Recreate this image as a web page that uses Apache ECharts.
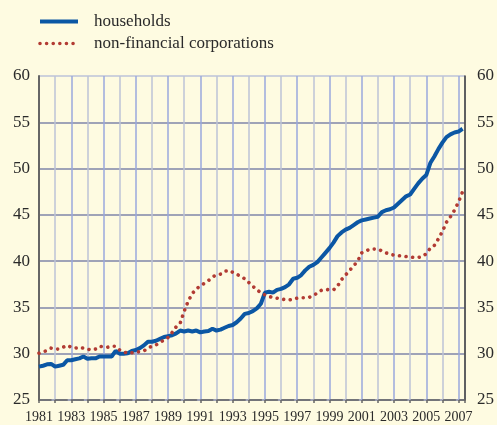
<!DOCTYPE html>
<html>
<head>
<meta charset="utf-8">
<script src="https://cdn.jsdelivr.net/npm/echarts@6/dist/echarts.min.js"></script>
<style>
  html, body { margin: 0; padding: 0; background: #fefbe1; }
  #chart { width: 497px; height: 425px; }
</style>
</head>
<body>
<div id="chart"></div>
<script>
// quarterly observations, 1981 Q1 .. 2007 Q2
const firstYear = 1981;
const households = [
  28.6, 28.7, 28.85, 28.9,   28.6, 28.7, 28.8, 29.3,   29.3, 29.4, 29.5, 29.7,
  29.45, 29.5, 29.5, 29.7,   29.7, 29.7, 29.7, 30.3,   30.0, 30.0, 30.05, 30.3,
  30.4, 30.6, 30.9, 31.3,    31.3, 31.4, 31.6, 31.8,   31.9, 32.0, 32.2, 32.5,
  32.4, 32.5, 32.4, 32.5,    32.3, 32.4, 32.45, 32.7,  32.5, 32.6, 32.8, 33.0,
  33.1, 33.4, 33.8, 34.3,    34.4, 34.6, 34.9, 35.4,   36.6, 36.7, 36.6, 36.9,
  37.0, 37.2, 37.5, 38.1,    38.2, 38.5, 39.0, 39.4,   39.6, 39.9, 40.4, 40.9,
  41.4, 42.0, 42.7, 43.1,    43.4, 43.6, 43.9, 44.2,   44.4, 44.5, 44.6, 44.7,
  44.8, 45.3, 45.5, 45.6,    45.8, 46.2, 46.6, 47.0,   47.2, 47.8, 48.4, 48.9,
  49.3, 50.6, 51.3, 52.1,    52.8, 53.4, 53.7, 53.9,   54.0, 54.3
];
const corporations = [
  30.05, 30.2, 30.35, 30.6,  30.5, 30.5, 30.7, 30.9,   30.7, 30.6, 30.7, 30.6,
  30.5, 30.4, 30.5, 30.8,    30.75, 30.7, 30.8, 30.8,  30.4, 30.2, 30.05, 30.1,
  30.2, 30.2, 30.3, 30.6,    30.8, 30.95, 31.2, 31.5,  31.75, 32.3, 32.9, 33.3,
  34.6, 35.7, 36.5, 37.0,    37.35, 37.6, 37.9, 38.3,  38.5, 38.6, 38.9, 39.0,
  38.8, 38.6, 38.35, 38.1,   37.7, 37.3, 36.9, 36.6,   36.35, 36.2, 36.05, 36.0,
  35.9, 35.85, 35.8, 35.9,   36.0, 36.05, 36.05, 36.1, 36.3, 36.55, 36.85, 36.95,
  36.9, 36.9, 37.3, 38.0,    38.5, 39.0, 39.5, 40.0,   40.9, 41.1, 41.3, 41.3,
  41.3, 41.1, 40.9, 40.75,   40.65, 40.6, 40.55, 40.5, 40.45, 40.4, 40.4, 40.5,
  40.8, 41.4, 41.7, 42.4,    43.2, 44.2, 44.8, 45.5,   46.4, 47.5
];
const seriesNames = ['households', 'non-financial corporations'];
const yTicks = { min: 25, max: 60, step: 5 };

const periods = households.map((_, i) => firstYear + i / 4);
const pairs = vals => vals.map((v, i) => [periods[i], v]);

const serif = '"Liberation Serif", "Times New Roman", serif';
const blueLine = { color: '#0b57a4', width: 4 };
const redDots = { color: '#b23b33', width: 3.6, type: [0.01, 6.6], cap: 'round' };

const chart = echarts.init(document.getElementById('chart'));

const yAxisBase = {
  type: 'value',
  min: yTicks.min,
  max: yTicks.max,
  interval: yTicks.step,
  axisTick: { show: false },
  axisLabel: { color: '#2a2a2a', fontFamily: serif, fontSize: 17 }
};

chart.setOption({
  backgroundColor: '#fefbe1',
  animation: false,
  legend: {
    orient: 'vertical',
    left: 33,
    top: 8,
    itemWidth: 38,
    itemHeight: 12,
    itemGap: 5,
    itemStyle: { opacity: 0 },
    textStyle: { fontFamily: serif, fontSize: 17, color: '#2a2a2a', padding: [0, 0, 0, 11] },
    data: [
      { name: seriesNames[0], lineStyle: blueLine },
      { name: seriesNames[1], lineStyle: redDots }
    ]
  },
  grid: { left: 39, right: 31, top: 76, bottom: 25 },
  xAxis: {
    type: 'value',
    min: firstYear,
    max: 2007.4,
    interval: 1,
    axisLine: { onZero: false, lineStyle: { color: '#666', width: 1.5, type: [12, 4.18] } },
    axisTick: { show: true, length: 3, lineStyle: { color: '#666', width: 1.5 } },
    axisLabel: {
      color: '#2a2a2a', fontFamily: serif, fontSize: 14, margin: 10,
      formatter: v => (Number.isInteger(v) && v % 2 === 1) ? String(v) : ''
    },
    splitLine: { show: true, lineStyle: { color: ['#9aa8dc', '#bcc3d6'], width: 1.5 } }
  },
  yAxis: [
    Object.assign({}, yAxisBase, {
      position: 'left',
      axisLine: { show: true, lineStyle: { color: '#666', width: 2 } },
      axisLabel: Object.assign({}, yAxisBase.axisLabel, { margin: 9 }),
      splitLine: {
        show: true,
        lineStyle: { color: ['#7f86a8', '#7f86a8', '#7f86a8', '#7f86a8', '#7f86a8', '#7f86a8', '#7f86a8', '#bcc3d8'], width: 1.5 }
      }
    }),
    Object.assign({}, yAxisBase, {
      position: 'right',
      axisLine: { show: true, lineStyle: { color: '#3a3a3a', width: 1.5 } },
      axisLabel: Object.assign({}, yAxisBase.axisLabel, { margin: 12 }),
      splitLine: { show: false }
    })
  ],
  series: [
    {
      name: seriesNames[0],
      type: 'line',
      symbol: 'none',
      data: pairs(households),
      lineStyle: blueLine,
      itemStyle: { color: blueLine.color }
    },
    {
      name: seriesNames[1],
      type: 'line',
      symbol: 'none',
      data: pairs(corporations),
      lineStyle: redDots,
      itemStyle: { color: redDots.color }
    }
  ]
});
</script>
</body>
</html>
